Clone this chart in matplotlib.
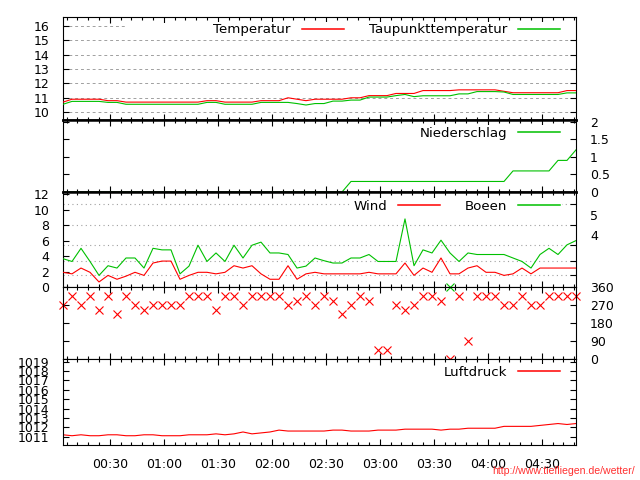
import matplotlib
matplotlib.use("Agg")
import matplotlib.pyplot as plt
import matplotlib.dates as mdates
from matplotlib.patches import Rectangle
import numpy as np
import pandas as pd

# Messzeitpunkte (alle 5 Minuten)
times = pd.date_range("2000-01-01 00:04", periods=58, freq="5min")

temperatur = [10.7, 10.9, 10.9, 10.9, 10.9, 10.8, 10.8, 10.7, 10.7, 10.7,
              10.7, 10.7, 10.7, 10.7, 10.7, 10.7, 10.8, 10.8, 10.7, 10.7,
              10.7, 10.7, 10.8, 10.8, 10.8, 11.0, 10.9, 10.8, 10.9, 10.9,
              10.9, 10.9, 11.0, 11.0, 11.15, 11.15, 11.15, 11.3, 11.3, 11.3,
              11.5, 11.5, 11.5, 11.5, 11.55, 11.55, 11.55, 11.55, 11.55, 11.45,
              11.35, 11.35, 11.35, 11.35, 11.35, 11.35, 11.5, 11.5]

taupunkt = [10.55, 10.75, 10.75, 10.75, 10.75, 10.68, 10.68, 10.55, 10.55, 10.55,
            10.55, 10.55, 10.55, 10.55, 10.55, 10.55, 10.68, 10.68, 10.55, 10.55,
            10.55, 10.55, 10.68, 10.68, 10.68, 10.68, 10.6, 10.5, 10.6, 10.6,
            10.77, 10.77, 10.84, 10.84, 11.05, 11.05, 11.05, 11.15, 11.23, 11.08,
            11.14, 11.14, 11.14, 11.14, 11.27, 11.27, 11.43, 11.43, 11.43, 11.4,
            11.23, 11.23, 11.23, 11.23, 11.23, 11.23, 11.34, 11.34]

niederschlag = [0, 0, 0, 0, 0, 0, 0, 0, 0, 0,
                0, 0, 0, 0, 0, 0, 0, 0, 0, 0,
                0, 0, 0, 0, 0, 0, 0, 0, 0, 0,
                0, 0, 0.3, 0.3, 0.3, 0.3, 0.3, 0.3, 0.3, 0.3,
                0.3, 0.3, 0.3, 0.3, 0.3, 0.3, 0.3, 0.3, 0.3, 0.3,
                0.6, 0.6, 0.6, 0.6, 0.6, 0.9, 0.9, 1.2]

wind = [1.9, 1.7, 2.45, 1.9, 0.65, 1.5, 1.0, 1.4, 1.9, 1.5,
        3.1, 3.35, 3.35, 1.0, 1.5, 1.9, 1.9, 1.7, 1.9, 2.75,
        2.45, 2.75, 1.7, 1.0, 1.0, 2.75, 1.0, 1.7, 1.9, 1.7,
        1.7, 1.7, 1.7, 1.7, 1.9, 1.7, 1.7, 1.7, 3.1, 1.5,
        2.45, 1.9, 3.75, 1.7, 1.7, 2.45, 2.75, 1.9, 1.9, 1.5,
        1.7, 2.45, 1.7, 2.45, 2.45, 2.45, 2.45, 2.45]

boeen = [3.66, 3.3, 5.0, 3.3, 1.5, 2.75, 2.45, 3.75, 3.75, 2.45,
         5.0, 4.8, 4.8, 1.7, 2.7, 5.4, 3.3, 4.4, 3.3, 5.4,
         3.75, 5.4, 5.8, 4.4, 4.4, 4.2, 2.45, 2.7, 3.75, 3.4,
         3.1, 3.1, 3.75, 3.75, 4.2, 3.3, 3.3, 3.3, 8.8, 2.75,
         4.8, 4.4, 6.05, 4.4, 3.3, 4.4, 4.2, 4.2, 4.2, 4.2,
         3.75, 3.3, 2.45, 4.2, 5.0, 4.2, 5.45, 6.0]

windrichtung = [270, 315, 270, 315, 247.5, 315, 225, 315, 270, 247.5,
                270, 270, 270, 270, 315, 315, 315, 247.5, 315, 315,
                270, 315, 315, 315, 315, 270, 292.5, 315, 270, 315,
                292.5, 225, 270, 315, 292.5, 45, 45, 270, 247.5, 270,
                315, 315, 292.5, 0, 315, 90, 315, 315, 315, 270,
                270, 315, 270, 270, 315, 315, 315, 315]

boeenrichtung = [270, 315, 270, 315, 247.5, 315, 225, 315, 270, 247.5,
                 270, 270, 270, 270, 315, 315, 315, 247.5, 315, 315,
                 270, 315, 315, 315, 315, 270, 292.5, 315, 270, 315,
                 292.5, 225, 270, 315, 292.5, 45, 45, 270, 247.5, 270,
                 315, 315, 292.5, 360, 315, 90, 315, 315, 315, 270,
                 270, 315, 270, 270, 315, 315, 315, 315]

luftdruck = [1011.2, 1011.1, 1011.2, 1011.1, 1011.1, 1011.2, 1011.2, 1011.1, 1011.1, 1011.2,
             1011.2, 1011.1, 1011.1, 1011.1, 1011.2, 1011.2, 1011.2, 1011.3, 1011.2, 1011.3,
             1011.5, 1011.3, 1011.4, 1011.5, 1011.7, 1011.6, 1011.6, 1011.6, 1011.6, 1011.6,
             1011.7, 1011.7, 1011.6, 1011.6, 1011.6, 1011.7, 1011.7, 1011.7, 1011.8, 1011.8,
             1011.8, 1011.8, 1011.7, 1011.8, 1011.8, 1011.9, 1011.9, 1011.9, 1011.9, 1012.1,
             1012.1, 1012.1, 1012.1, 1012.2, 1012.3, 1012.4, 1012.3, 1012.4]

# Beaufort-Grenzen (m/s) und Beschriftung
bft_grenzen = [1.6, 3.3, 5.4, 8.0, 10.7]
bft_label_pos = [6.7, 9.35]
bft_labels = ["4", "5"]

RED = "#ff0000"
GREEN = "#00c000"
GRID = "#a0a0a0"
LW = 0.8

plt.rcParams["font.family"] = "DejaVu Sans"
plt.rcParams["font.size"] = 9

fig = plt.figure(figsize=(6.4, 4.8), dpi=100)
W, H = 640.0, 480.0


def panel(top, bottom):
    return fig.add_axes([63 / W, 1 - bottom / H, 513 / W, (bottom - top) / H])


t0 = pd.Timestamp("2000-01-01 00:04")
t1 = pd.Timestamp("2000-01-01 04:49")


def style(ax, thick_top=False, thick_bottom=False, show_x=False):
    ax.set_xlim(t0, t1)
    ax.xaxis.set_major_locator(mdates.MinuteLocator(byminute=[0, 30]))
    ax.xaxis.set_minor_locator(mdates.MinuteLocator(byminute=range(0, 60, 6)))
    ax.xaxis.set_major_formatter(mdates.DateFormatter("%H:%M"))
    ax.tick_params(axis="x", which="both", direction="in", top=True, bottom=True,
                   labelbottom=show_x, pad=9.5, width=0.8)
    ax.tick_params(axis="x", which="major", length=4.5)
    ax.tick_params(axis="x", which="minor", length=2.5)
    ax.tick_params(axis="y", direction="in", length=4.3, width=0.8, pad=10)
    for s in ax.spines.values():
        s.set_linewidth(0.8)
    if thick_top:
        ax.spines["top"].set_linewidth(1.8)
    if thick_bottom:
        ax.spines["bottom"].set_linewidth(1.8)


def legend(ax, ncol, y_px, top_px):
    leg = ax.legend(ncol=ncol, loc="center right", markerfirst=False,
                    bbox_to_anchor=((562 - 63) / 513.0, 1 - (y_px - top_px) / ax.bbox.height),
                    borderaxespad=0, borderpad=0.15, frameon=True, fancybox=False,
                    edgecolor="none", facecolor="white", framealpha=1,
                    handlelength=3.15, handletextpad=0.8, columnspacing=1.9, fontsize=9.6)
    leg.set_zorder(5)
    for ln in leg.get_lines():
        ln.set_linewidth(1.1)
    return leg


# Temperatur
ax1 = panel(17, 120)
ax1.plot(times, temperatur, color=RED, lw=LW, label="Temperatur", zorder=3)
ax1.plot(times, taupunkt, color=GREEN, lw=LW, label="Taupunkttemperatur", zorder=3)
ax1.set_ylim(9.46, 16.6)
ax1.set_yticks([10, 11, 12, 13, 14, 15, 16])
ax1.yaxis.grid(True, linestyle=(0, (3, 3)), color=GRID, lw=0.7)
ax1.set_axisbelow(True)
ax1.tick_params(axis="y", left=True, right=True)
style(ax1, thick_bottom=True)
ax1.add_patch(Rectangle(((125 - 63) / 513.0, 1 - 20 / 103.0), (576 - 125) / 513.0, 14 / 103.0,
                        transform=ax1.transAxes, facecolor="white", edgecolor="none", zorder=1))
legend(ax1, 2, 30, 17)

# Niederschlag
ax2 = panel(120, 192)
ax2.plot(times, niederschlag, color=GREEN, lw=LW, label="Niederschlag")
ax2.set_ylim(0, 2.05)
ax2.set_yticks([0, 0.5, 1, 1.5, 2])
ax2.set_yticklabels(["0", "0.5", "1", "1.5", "2"])
style(ax2, thick_top=True, thick_bottom=True)
ax2.tick_params(axis="y", left=True, right=True, labelleft=False, labelright=True)
legend(ax2, 1, 133, 120)

# Wind
ax3 = panel(192, 287)
for g in bft_grenzen:
    ax3.axhline(g, color=GRID, lw=0.8, linestyle=(0, (1, 3)), zorder=1)
ax3.plot(times, wind, color=RED, lw=LW, label="Wind", zorder=3)
ax3.plot(times, boeen, color=GREEN, lw=LW, label="Boeen", zorder=3)
ax3.set_ylim(0, 12.28)
ax3.set_yticks([0, 2, 4, 6, 8, 10, 12])
style(ax3, thick_top=True)
ax3.tick_params(axis="y", left=True, right=False)
legend(ax3, 2, 206, 192)
ax3r = ax3.twinx()
ax3r.set_ylim(0, 12.28)
ax3r.set_yticks(bft_grenzen)
ax3r.set_yticklabels([])
ax3r.set_yticks(bft_label_pos, minor=True)
ax3r.set_yticklabels(bft_labels, minor=True)
ax3r.tick_params(axis="y", which="major", direction="in", length=4.3, width=0.8)
ax3r.tick_params(axis="y", which="minor", length=0, pad=10)
for s in ax3r.spines.values():
    s.set_visible(False)

# Windrichtung (Boeenrichtung nur dort sichtbar, wo sie abweicht)
ax4 = panel(287, 359)
wr = np.array(windrichtung, dtype=float)
br = np.array(boeenrichtung, dtype=float)
abweichend = br != wr
ax4.plot(times[abweichend], br[abweichend], linestyle="none", marker="x", ms=5.5, mew=0.8,
         color=GREEN, clip_on=False)
ax4.plot(times, wr, linestyle="none", marker="x", ms=5.5, mew=0.8,
         color=RED, clip_on=False)
ax4.set_ylim(0, 360)
ax4.set_yticks([0, 90, 180, 270, 360])
style(ax4)
ax4.tick_params(axis="y", left=True, right=True, labelleft=False, labelright=True)

# Luftdruck
ax5 = panel(359, 445)
ax5.plot(times, luftdruck, color=RED, lw=LW, label="Luftdruck")
ax5.set_ylim(1010.11, 1019.29)
ax5.set_yticks(range(1011, 1020))
style(ax5, show_x=True)
ax5.tick_params(axis="y", left=True, right=True)
legend(ax5, 1, 372, 359)

fig.text(635 / W, 1 - 471 / H, "http://www.tiefliegen.de/wetter/", ha="right", va="center",
         fontsize=7.6, color="#ff3030", family="Liberation Sans")

fig.savefig("out.png", dpi=100)
